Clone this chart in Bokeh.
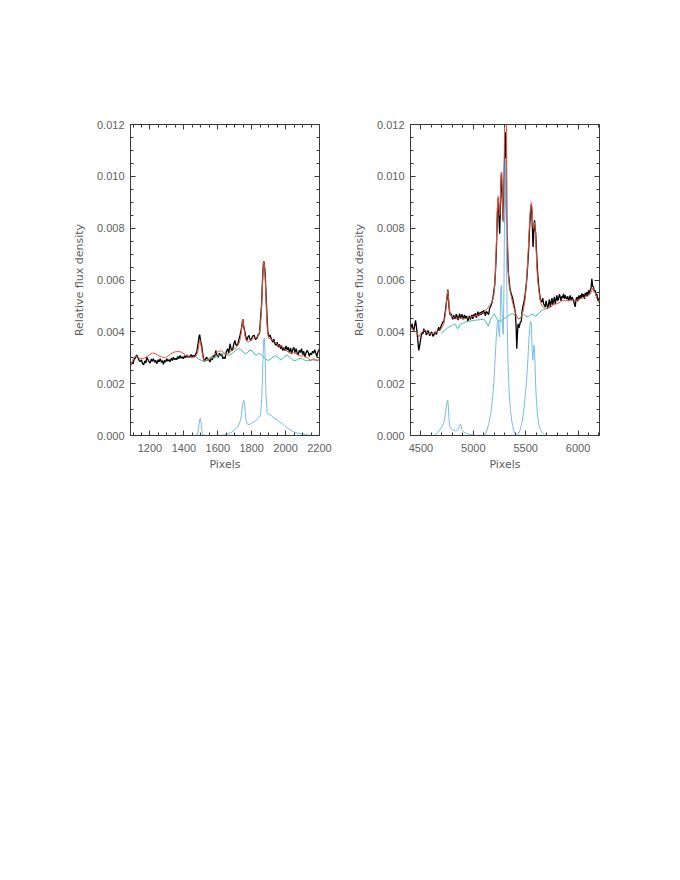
from bokeh.plotting import figure
from bokeh.layouts import row
from bokeh.models import (Range1d, LinearAxis, SingleIntervalTicker, NumeralTickFormatter,
                          CustomJSTickFormatter)
from bokeh.embed import file_html
from bokeh.resources import INLINE

# ---------------- data (pixel, relative flux density) ----------------
left_xrange = (1085, 2200)
right_xrange = (4400, 6205)
y_range = (0.0, 0.012)

left_observed = [
    (1085, 0.00270), (1093, 0.00282), (1100, 0.00276), (1107, 0.00295), (1115, 0.00300),
    (1122, 0.00311), (1130, 0.00298), (1136, 0.00290), (1142, 0.00285), (1150, 0.00292),
    (1156, 0.00278), (1162, 0.00272), (1170, 0.00288), (1176, 0.00280), (1181, 0.00302),
    (1190, 0.00290), (1196, 0.00283), (1201, 0.00279), (1208, 0.00295), (1214, 0.00286),
    (1220, 0.00296), (1228, 0.00283), (1234, 0.00290), (1240, 0.00277), (1248, 0.00292),
    (1254, 0.00284), (1260, 0.00296), (1268, 0.00282), (1274, 0.00289), (1279, 0.00275),
    (1286, 0.00290), (1292, 0.00283), (1299, 0.00296), (1306, 0.00287), (1312, 0.00293),
    (1319, 0.00285), (1326, 0.00298), (1332, 0.00289), (1338, 0.00302), (1345, 0.00292),
    (1352, 0.00297), (1358, 0.00293), (1364, 0.00305), (1370, 0.00296), (1377, 0.00309),
    (1384, 0.00298), (1390, 0.00304), (1397, 0.00296), (1404, 0.00308), (1410, 0.00300),
    (1417, 0.00311), (1424, 0.00301), (1430, 0.00307), (1436, 0.00302), (1443, 0.00312),
    (1450, 0.00303), (1456, 0.00309), (1464, 0.00305), (1470, 0.00315), (1476, 0.00322),
    (1481, 0.00345), (1485, 0.00360), (1490, 0.00385), (1493, 0.00389), (1497, 0.00372),
    (1501, 0.00358), (1505, 0.00347), (1510, 0.00320), (1515, 0.00300), (1521, 0.00285),
    (1527, 0.00295), (1535, 0.00302), (1541, 0.00290), (1548, 0.00294), (1554, 0.00283),
    (1561, 0.00300), (1568, 0.00292), (1574, 0.00309), (1581, 0.00300), (1588, 0.00328),
    (1595, 0.00310), (1603, 0.00302), (1610, 0.00318), (1617, 0.00308), (1623, 0.00315),
    (1630, 0.00296), (1636, 0.00303), (1642, 0.00296), (1650, 0.00322), (1658, 0.00335),
    (1665, 0.00318), (1672, 0.00354), (1680, 0.00330), (1686, 0.00328), (1694, 0.00352),
    (1701, 0.00367), (1708, 0.00348), (1717, 0.00350), (1724, 0.00368), (1731, 0.00386),
    (1737, 0.00405), (1741, 0.00418), (1745, 0.00440), (1748, 0.00448), (1753, 0.00420),
    (1760, 0.00399), (1766, 0.00378), (1772, 0.00367), (1778, 0.00380), (1784, 0.00386),
    (1790, 0.00372), (1796, 0.00366), (1800, 0.00376), (1808, 0.00385), (1815, 0.00386),
    (1822, 0.00370), (1831, 0.00376), (1838, 0.00388), (1844, 0.00392), (1847, 0.00399),
    (1852, 0.00450), (1858, 0.00502), (1862, 0.00570), (1866, 0.00631), (1869, 0.00662),
    (1872, 0.00672), (1876, 0.00650), (1880, 0.00618), (1885, 0.00540), (1890, 0.00463),
    (1895, 0.00400), (1902, 0.00380), (1908, 0.00388), (1917, 0.00371), (1925, 0.00360),
    (1931, 0.00372), (1937, 0.00354), (1944, 0.00348), (1950, 0.00360), (1957, 0.00341),
    (1964, 0.00352), (1970, 0.00335), (1976, 0.00347), (1983, 0.00328), (1990, 0.00340),
    (1996, 0.00328), (2003, 0.00346), (2009, 0.00330), (2015, 0.00341), (2022, 0.00322),
    (2029, 0.00338), (2035, 0.00315), (2042, 0.00332), (2049, 0.00340), (2055, 0.00320),
    (2062, 0.00335), (2068, 0.00318), (2074, 0.00311), (2081, 0.00329), (2088, 0.00320),
    (2094, 0.00335), (2101, 0.00312), (2107, 0.00325), (2114, 0.00302), (2120, 0.00318),
    (2126, 0.00328), (2133, 0.00322), (2140, 0.00305), (2146, 0.00318), (2153, 0.00312),
    (2159, 0.00325), (2166, 0.00318), (2172, 0.00331), (2179, 0.00315), (2185, 0.00304),
    (2190, 0.00322), (2195, 0.00328), (2200, 0.00335),
]

left_model = [
    (1085, 0.00268), (1095, 0.00285), (1105, 0.00300), (1115, 0.00308), (1125, 0.00303),
    (1140, 0.00298), (1155, 0.00296), (1170, 0.00300), (1185, 0.00306), (1200, 0.00313),
    (1215, 0.00318), (1230, 0.00316), (1245, 0.00310), (1260, 0.00305), (1275, 0.00302),
    (1290, 0.00300), (1305, 0.00306), (1320, 0.00314), (1335, 0.00320), (1350, 0.00323),
    (1365, 0.00324), (1380, 0.00323), (1395, 0.00318), (1410, 0.00310), (1425, 0.00305),
    (1440, 0.00302), (1455, 0.00300), (1470, 0.00305), (1480, 0.00318), (1487, 0.00345),
    (1493, 0.00370), (1498, 0.00360), (1505, 0.00330), (1512, 0.00302), (1520, 0.00290),
    (1530, 0.00289), (1545, 0.00296), (1560, 0.00302), (1575, 0.00310), (1590, 0.00318),
    (1605, 0.00325), (1620, 0.00327), (1635, 0.00320), (1650, 0.00312), (1665, 0.00318),
    (1680, 0.00326), (1695, 0.00333), (1710, 0.00340), (1725, 0.00355), (1735, 0.00380),
    (1742, 0.00420), (1748, 0.00445), (1754, 0.00420), (1760, 0.00385), (1768, 0.00365),
    (1780, 0.00360), (1795, 0.00368), (1810, 0.00375), (1825, 0.00378), (1840, 0.00385),
    (1850, 0.00410), (1858, 0.00490), (1864, 0.00590), (1869, 0.00660), (1872, 0.00670),
    (1876, 0.00650), (1881, 0.00590), (1887, 0.00480), (1893, 0.00400), (1900, 0.00375),
    (1910, 0.00372), (1925, 0.00368), (1940, 0.00358), (1955, 0.00350), (1970, 0.00343),
    (1985, 0.00340), (2000, 0.00330), (2015, 0.00322), (2030, 0.00318), (2045, 0.00320),
    (2060, 0.00316), (2075, 0.00310), (2090, 0.00306), (2105, 0.00308), (2120, 0.00303),
    (2135, 0.00296), (2150, 0.00290), (2165, 0.00296), (2180, 0.00292), (2190, 0.00290),
    (2200, 0.00300),
]

left_continuum = [
    (1470, 0.00302), (1485, 0.00296), (1500, 0.00291), (1515, 0.00288), (1530, 0.00288),
    (1545, 0.00292), (1560, 0.00297), (1575, 0.00302), (1590, 0.00305), (1605, 0.00308),
    (1620, 0.00312), (1635, 0.00315), (1650, 0.00312), (1665, 0.00310), (1680, 0.00315),
    (1695, 0.00322), (1710, 0.00330), (1722, 0.00335), (1735, 0.00333), (1750, 0.00322),
    (1762, 0.00315), (1775, 0.00320), (1790, 0.00330), (1803, 0.00326), (1815, 0.00315),
    (1828, 0.00310), (1840, 0.00316), (1852, 0.00315), (1865, 0.00305), (1880, 0.00296),
    (1895, 0.00290), (1910, 0.00293), (1925, 0.00302), (1940, 0.00308), (1955, 0.00302),
    (1968, 0.00293), (1980, 0.00295), (1995, 0.00305), (2010, 0.00310), (2025, 0.00302),
    (2040, 0.00292), (2055, 0.00288), (2070, 0.00293), (2085, 0.00298), (2100, 0.00296),
    (2115, 0.00290), (2130, 0.00288), (2145, 0.00290), (2160, 0.00292), (2175, 0.00290),
    (2190, 0.00288), (2200, 0.00292),
]

left_lines = [
    (1085, 0.0), (1475, 0.0), (1482, 0.00010), (1488, 0.00035), (1493, 0.00060),
    (1497, 0.00066), (1501, 0.00050), (1506, 0.00020), (1512, 0.00004), (1520, 0.0),
    (1620, 0.0), (1650, 0.00004), (1680, 0.00012), (1700, 0.00022), (1720, 0.00035),
    (1735, 0.00060), (1742, 0.00097), (1748, 0.00125), (1754, 0.00135), (1760, 0.00110),
    (1766, 0.00060), (1773, 0.00045), (1785, 0.00042), (1800, 0.00047), (1820, 0.00056),
    (1836, 0.00064), (1852, 0.00077), (1860, 0.00150), (1866, 0.00280), (1871, 0.00370),
    (1875, 0.00376), (1879, 0.00300), (1885, 0.00150), (1891, 0.00090), (1895, 0.00084),
    (1915, 0.00077), (1935, 0.00066), (1954, 0.00058), (1975, 0.00048), (1993, 0.00039),
    (2013, 0.00028), (2033, 0.00019), (2052, 0.00013), (2072, 0.00009), (2092, 0.00006),
    (2112, 0.00004), (2140, 0.00001), (2200, 0.0),
]

right_observed = [
    (4400, 0.00412), (4408, 0.00420), (4416, 0.00431), (4424, 0.00410), (4432, 0.00406),
    (4440, 0.00425), (4448, 0.00444), (4457, 0.00418), (4464, 0.00390), (4470, 0.00367),
    (4479, 0.00328), (4487, 0.00345), (4495, 0.00367), (4503, 0.00385), (4511, 0.00399),
    (4519, 0.00392), (4527, 0.00412), (4535, 0.00400), (4543, 0.00406), (4551, 0.00388),
    (4559, 0.00393), (4567, 0.00405), (4575, 0.00398), (4583, 0.00385), (4591, 0.00390),
    (4599, 0.00400), (4607, 0.00395), (4615, 0.00383), (4622, 0.00386), (4630, 0.00398),
    (4638, 0.00399), (4646, 0.00390), (4654, 0.00399), (4662, 0.00408), (4670, 0.00418),
    (4678, 0.00405), (4686, 0.00412), (4694, 0.00425), (4702, 0.00431), (4710, 0.00440),
    (4718, 0.00438), (4726, 0.00460), (4734, 0.00483), (4743, 0.00515), (4750, 0.00534),
    (4756, 0.00563), (4761, 0.00540), (4765, 0.00509), (4772, 0.00480), (4781, 0.00464),
    (4789, 0.00470), (4797, 0.00457), (4805, 0.00448), (4813, 0.00464), (4821, 0.00452),
    (4829, 0.00451), (4837, 0.00468), (4845, 0.00460), (4853, 0.00445), (4861, 0.00457),
    (4869, 0.00470), (4877, 0.00451), (4885, 0.00462), (4893, 0.00467), (4900, 0.00448),
    (4908, 0.00457), (4916, 0.00465), (4924, 0.00450), (4932, 0.00460), (4940, 0.00457),
    (4948, 0.00440), (4956, 0.00455), (4964, 0.00462), (4972, 0.00447), (4980, 0.00458),
    (4988, 0.00465), (4996, 0.00450), (5004, 0.00467), (5012, 0.00460), (5020, 0.00472),
    (5028, 0.00455), (5036, 0.00464), (5044, 0.00478), (5052, 0.00462), (5060, 0.00470),
    (5067, 0.00476), (5075, 0.00465), (5083, 0.00480), (5091, 0.00470), (5099, 0.00483),
    (5107, 0.00476), (5115, 0.00462), (5123, 0.00478), (5131, 0.00476), (5139, 0.00470),
    (5147, 0.00467), (5155, 0.00490), (5163, 0.00496), (5171, 0.00505), (5179, 0.00515),
    (5187, 0.00530), (5195, 0.00554), (5204, 0.00580), (5210, 0.00624), (5217, 0.00680),
    (5222, 0.00740), (5228, 0.00830), (5233, 0.00890), (5237, 0.00914), (5242, 0.00880),
    (5247, 0.00820), (5252, 0.00779), (5257, 0.00860), (5263, 0.00970), (5268, 0.01011),
    (5273, 0.00960), (5278, 0.00900), (5285, 0.00830), (5290, 0.00900), (5296, 0.01020),
    (5301, 0.01120), (5306, 0.01170), (5311, 0.01100), (5315, 0.00900), (5320, 0.00780),
    (5325, 0.00760), (5330, 0.00676), (5336, 0.00620), (5342, 0.00599), (5350, 0.00566),
    (5362, 0.00547), (5372, 0.00535), (5385, 0.00510), (5395, 0.00490), (5401, 0.00476),
    (5409, 0.00418), (5415, 0.00335), (5420, 0.00380), (5427, 0.00431), (5435, 0.00415),
    (5442, 0.00425), (5449, 0.00438), (5458, 0.00440), (5465, 0.00476), (5474, 0.00500),
    (5481, 0.00509), (5490, 0.00530), (5496, 0.00547), (5505, 0.00580), (5512, 0.00612),
    (5520, 0.00660), (5528, 0.00715), (5536, 0.00790), (5543, 0.00840), (5549, 0.00880),
    (5554, 0.00890), (5559, 0.00860), (5564, 0.00805), (5570, 0.00727), (5575, 0.00760),
    (5580, 0.00815), (5585, 0.00830), (5590, 0.00800), (5596, 0.00779), (5603, 0.00715),
    (5612, 0.00640), (5622, 0.00586), (5632, 0.00550), (5639, 0.00528), (5646, 0.00520),
    (5655, 0.00515), (5663, 0.00530), (5671, 0.00509), (5679, 0.00502), (5687, 0.00496),
    (5695, 0.00520), (5703, 0.00502), (5711, 0.00490), (5719, 0.00510), (5727, 0.00525),
    (5735, 0.00496), (5743, 0.00512), (5751, 0.00530), (5759, 0.00505), (5767, 0.00521),
    (5775, 0.00535), (5782, 0.00508), (5790, 0.00522), (5798, 0.00541), (5806, 0.00520),
    (5814, 0.00528), (5822, 0.00545), (5830, 0.00534), (5838, 0.00520), (5846, 0.00538),
    (5854, 0.00531), (5862, 0.00547), (5870, 0.00528), (5878, 0.00541), (5886, 0.00530),
    (5894, 0.00528), (5902, 0.00537), (5910, 0.00520), (5918, 0.00529), (5925, 0.00541),
    (5933, 0.00522), (5941, 0.00534), (5949, 0.00528), (5957, 0.00521), (5965, 0.00508),
    (5973, 0.00496), (5981, 0.00525), (5989, 0.00534), (5997, 0.00518), (6005, 0.00540),
    (6013, 0.00525), (6021, 0.00541), (6029, 0.00530), (6037, 0.00548), (6045, 0.00535),
    (6053, 0.00545), (6061, 0.00527), (6069, 0.00550), (6077, 0.00540), (6084, 0.00553),
    (6092, 0.00538), (6100, 0.00560), (6108, 0.00548), (6116, 0.00560), (6124, 0.00568),
    (6132, 0.00605), (6140, 0.00575), (6148, 0.00573), (6156, 0.00555), (6164, 0.00560),
    (6172, 0.00540), (6180, 0.00547), (6188, 0.00520), (6196, 0.00530), (6205, 0.00510),
]

right_model = [
    (4400, 0.00418), (4416, 0.00412), (4432, 0.00406), (4448, 0.00400), (4464, 0.00395),
    (4479, 0.00380), (4495, 0.00392), (4511, 0.00399), (4527, 0.00405), (4543, 0.00403),
    (4559, 0.00398), (4575, 0.00393), (4591, 0.00392), (4607, 0.00393), (4622, 0.00395),
    (4638, 0.00398), (4654, 0.00400), (4670, 0.00405), (4686, 0.00410), (4702, 0.00418),
    (4718, 0.00431), (4734, 0.00470), (4743, 0.00509), (4750, 0.00540), (4756, 0.00560),
    (4762, 0.00540), (4768, 0.00500), (4775, 0.00476), (4785, 0.00464), (4797, 0.00460),
    (4813, 0.00455), (4829, 0.00451), (4845, 0.00450), (4861, 0.00452), (4877, 0.00455),
    (4893, 0.00452), (4908, 0.00450), (4924, 0.00451), (4940, 0.00452), (4956, 0.00455),
    (4972, 0.00457), (4988, 0.00458), (5004, 0.00460), (5020, 0.00462), (5036, 0.00464),
    (5052, 0.00466), (5067, 0.00470), (5083, 0.00472), (5099, 0.00476), (5115, 0.00482),
    (5131, 0.00489), (5147, 0.00496), (5163, 0.00506), (5179, 0.00515), (5195, 0.00540),
    (5204, 0.00580), (5212, 0.00640), (5220, 0.00740), (5228, 0.00860), (5233, 0.00910),
    (5238, 0.00923), (5243, 0.00890), (5249, 0.00850), (5255, 0.00862), (5261, 0.00960),
    (5267, 0.01010), (5272, 0.01017), (5277, 0.00940), (5282, 0.00850), (5287, 0.00824),
    (5292, 0.00900), (5297, 0.01150), (5302, 0.01260), (5316, 0.01260), (5320, 0.01000),
    (5325, 0.00760), (5332, 0.00640), (5345, 0.00570), (5360, 0.00540), (5375, 0.00513),
    (5390, 0.00490), (5405, 0.00470), (5420, 0.00455), (5435, 0.00451), (5449, 0.00452),
    (5465, 0.00465), (5481, 0.00490), (5496, 0.00530), (5508, 0.00590), (5520, 0.00680),
    (5530, 0.00760), (5538, 0.00830), (5545, 0.00875), (5551, 0.00895), (5556, 0.00899),
    (5562, 0.00860), (5568, 0.00810), (5574, 0.00798), (5580, 0.00815), (5586, 0.00822),
    (5592, 0.00790), (5598, 0.00740), (5606, 0.00660), (5614, 0.00600), (5624, 0.00565),
    (5635, 0.00530), (5646, 0.00510), (5655, 0.00500), (5671, 0.00496), (5687, 0.00489),
    (5703, 0.00490), (5719, 0.00492), (5735, 0.00495), (5751, 0.00500), (5767, 0.00505),
    (5782, 0.00507), (5798, 0.00508), (5814, 0.00512), (5830, 0.00515), (5846, 0.00520),
    (5862, 0.00522), (5878, 0.00522), (5894, 0.00521), (5910, 0.00520), (5925, 0.00521),
    (5941, 0.00522), (5957, 0.00521), (5973, 0.00520), (5989, 0.00522), (6005, 0.00525),
    (6021, 0.00528), (6037, 0.00530), (6053, 0.00532), (6069, 0.00535), (6084, 0.00537),
    (6100, 0.00540), (6116, 0.00545), (6132, 0.00560), (6140, 0.00568), (6148, 0.00560),
    (6164, 0.00550), (6180, 0.00530), (6196, 0.00520), (6205, 0.00525),
]

right_continuum = [
    (4690, 0.00395), (4702, 0.00398), (4718, 0.00402), (4734, 0.00408), (4750, 0.00414),
    (4765, 0.00418), (4781, 0.00420), (4797, 0.00424), (4813, 0.00430), (4829, 0.00428),
    (4840, 0.00420), (4850, 0.00412), (4858, 0.00415), (4870, 0.00428), (4882, 0.00432),
    (4895, 0.00430), (4910, 0.00436), (4925, 0.00438), (4940, 0.00440), (4956, 0.00441),
    (4972, 0.00442), (4988, 0.00443), (5004, 0.00444), (5020, 0.00445), (5036, 0.00446),
    (5052, 0.00446), (5067, 0.00447), (5083, 0.00448), (5099, 0.00448), (5115, 0.00442),
    (5131, 0.00430), (5142, 0.00422), (5152, 0.00432), (5165, 0.00448), (5180, 0.00458),
    (5192, 0.00466), (5202, 0.00468), (5214, 0.00458), (5228, 0.00448), (5242, 0.00442),
    (5256, 0.00440), (5270, 0.00444), (5285, 0.00448), (5300, 0.00452), (5315, 0.00456),
    (5330, 0.00460), (5345, 0.00465), (5360, 0.00469), (5375, 0.00470), (5390, 0.00466),
    (5405, 0.00460), (5420, 0.00455), (5435, 0.00451), (5449, 0.00453), (5465, 0.00460),
    (5481, 0.00466), (5496, 0.00463), (5512, 0.00458), (5528, 0.00460), (5544, 0.00464),
    (5560, 0.00468), (5576, 0.00466), (5592, 0.00461), (5608, 0.00464), (5624, 0.00471),
    (5640, 0.00477), (5655, 0.00483), (5671, 0.00487), (5687, 0.00489), (5703, 0.00490),
    (5719, 0.00492),
]

right_lines = [
    (4400, 0.0), (4620, 0.0), (4640, 0.00005), (4660, 0.00012), (4680, 0.00022),
    (4700, 0.00035), (4718, 0.00050), (4730, 0.00075), (4740, 0.00105), (4750, 0.00130),
    (4756, 0.00137), (4762, 0.00110), (4768, 0.00060), (4775, 0.00035), (4790, 0.00025),
    (4810, 0.00020), (4830, 0.00018), (4850, 0.00022), (4868, 0.00035), (4877, 0.00045),
    (4885, 0.00035), (4893, 0.00020), (4910, 0.00013), (4930, 0.00008), (4960, 0.00005),
    (4990, 0.00002), (5020, 0.0), (5099, 0.0), (5115, 0.00005), (5131, 0.00020),
    (5150, 0.00050), (5170, 0.00095), (5185, 0.00150), (5195, 0.00200), (5205, 0.00270),
    (5215, 0.00350), (5222, 0.00400), (5230, 0.00440), (5236, 0.00445), (5243, 0.00400),
    (5250, 0.00380), (5256, 0.00450), (5262, 0.00560), (5267, 0.00580), (5273, 0.00500),
    (5280, 0.00410), (5286, 0.00390), (5292, 0.00550), (5298, 0.00850), (5304, 0.01050),
    (5308, 0.01070), (5313, 0.00900), (5318, 0.00650), (5324, 0.00420), (5332, 0.00270),
    (5342, 0.00170), (5354, 0.00100), (5368, 0.00055), (5382, 0.00025), (5396, 0.00008),
    (5410, 0.00002), (5420, 0.0), (5430, 0.00005), (5445, 0.00020), (5465, 0.00050),
    (5480, 0.00090), (5495, 0.00150), (5510, 0.00220), (5522, 0.00300), (5532, 0.00380),
    (5541, 0.00425), (5548, 0.00440), (5554, 0.00430), (5560, 0.00360), (5565, 0.00300),
    (5569, 0.00290), (5574, 0.00320), (5579, 0.00348), (5584, 0.00340), (5589, 0.00280),
    (5595, 0.00200), (5603, 0.00130), (5614, 0.00075), (5627, 0.00040), (5642, 0.00020),
    (5662, 0.00008), (5682, 0.00002), (5700, 0.0), (6205, 0.0),
]

# ---------------- styling ----------------
AXIS_COLOR = "#3a3a3a"
TEXT_COLOR = "#5e5e5e"
C_OBS = "#000000"
C_MODEL = "#e4553f"
C_CONT = "#3cc196"
C_LINES = "#78bcec"


def xy(pairs):
    return [a for a, _ in pairs], [b for _, b in pairs]


def style_axis(ax, ticker, labels=True):
    ax.ticker = ticker
    ax.axis_line_color = AXIS_COLOR
    ax.axis_line_width = 1
    ax.major_tick_line_color = AXIS_COLOR
    ax.minor_tick_line_color = AXIS_COLOR
    ax.major_tick_in = 5
    ax.major_tick_out = 0
    ax.minor_tick_in = 3
    ax.minor_tick_out = 0
    if labels:
        ax.major_label_text_font = "Liberation Sans"
        ax.major_label_text_font_size = "11px"
        ax.major_label_text_color = TEXT_COLOR
        ax.axis_label_text_font = "DejaVu Sans"
        ax.axis_label_text_font_size = "11px"
        ax.axis_label_text_font_style = "normal"
        ax.axis_label_text_color = TEXT_COLOR
    else:
        ax.formatter = CustomJSTickFormatter(code="return '';")
        ax.major_label_standoff = 0
        ax.axis_label = None


def panel(xrange, x_interval, x_minor, border_left, border_right, obs, model, cont, lines):
    p = figure(
        frame_width=189, frame_height=311,
        x_range=Range1d(*xrange), y_range=Range1d(*y_range),
        output_backend="svg", toolbar_location=None,
        min_border_left=border_left, min_border_right=border_right,
        min_border_top=124, min_border_bottom=53,
        x_axis_label="Pixels", y_axis_label="Relative flux density",
        background_fill_color="white", border_fill_color="white",
    )
    p.outline_line_color = None
    p.xgrid.visible = False
    p.ygrid.visible = False

    xt = lambda: SingleIntervalTicker(interval=x_interval, num_minor_ticks=x_minor)
    yt = lambda: SingleIntervalTicker(interval=0.002, num_minor_ticks=4)

    style_axis(p.xaxis[0], xt())
    p.xaxis[0].formatter = NumeralTickFormatter(format="0")
    p.xaxis[0].major_label_standoff = 8
    p.xaxis[0].axis_label_standoff = 3
    style_axis(p.yaxis[0], yt())
    p.yaxis[0].formatter = NumeralTickFormatter(format="0.000")
    p.yaxis[0].major_label_standoff = 6
    p.yaxis[0].axis_label_standoff = 8

    top = LinearAxis()
    style_axis(top, xt(), labels=False)
    p.add_layout(top, "above")
    right = LinearAxis()
    style_axis(right, yt(), labels=False)
    p.add_layout(right, "right")

    ox, oy = xy(obs)
    p.line(ox, oy, line_color=C_OBS, line_width=1.3)
    cx, cy = xy(cont)
    p.line(cx, cy, line_color=C_CONT, line_width=1)
    mx, my = xy(model)
    p.line(mx, my, line_color=C_MODEL, line_width=1)
    lx, ly = xy(lines)
    p.line(lx, ly, line_color=C_LINES, line_width=1)
    return p


p1 = panel(left_xrange, 200, 4, 130, 21, left_observed, left_model, left_continuum, left_lines)
p2 = panel(right_xrange, 500, 5, 70, 73, right_observed, right_model, right_continuum, right_lines)

layout = row(p1, p2)
open("out.html", "w").write(file_html(layout, INLINE))
